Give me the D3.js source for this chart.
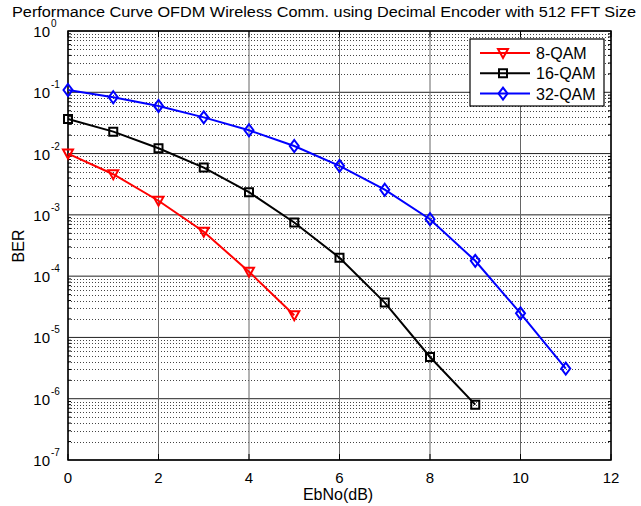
<!DOCTYPE html>
<html>
<head>
<meta charset="utf-8">
<script src="https://cdn.jsdelivr.net/npm/d3@7"></script>
<style>
  body { margin: 0; background: #fff; }
  text { font-family: "Liberation Sans", Arial, sans-serif; }
</style>
</head>
<body>
<div id="chart"></div>
<script>
// EbNo values and BER
var ebno = [0, 1, 2, 3, 4, 5, 6, 7, 8, 9, 10, 11];
var ber8 = [1.0e-2, 4.6e-3, 1.7e-3, 5.3e-4, 1.18e-4, 2.3e-5];
var ber16 = [3.67e-2, 2.28e-2, 1.22e-2, 5.9e-3, 2.34e-3, 7.5e-4, 2.0e-4, 3.7e-5, 4.8e-6, 8.0e-7];
var ber32 = [0.109, 8.3e-2, 5.98e-2, 3.9e-2, 2.4e-2, 1.33e-2, 6.3e-3, 2.57e-3, 8.5e-4, 1.78e-4, 2.47e-5, 3.1e-6];
var xTicks = [0, 2, 4, 6, 8, 10, 12];
var yExp = [0, -1, -2, -3, -4, -5, -6, -7];
var names = ["8-QAM", "16-QAM", "32-QAM"];

var w = 641, h = 506;
var pL = 68, pR = 611, pT = 31, pB = 460;

var x = d3.scaleLinear().domain([0, 12]).range([pL, pR]);
var y = d3.scaleLog().domain([1e-7, 1]).range([pB, pT]);

var svg = d3.select("#chart").append("svg")
  .attr("width", w)
  .attr("height", h);

svg.append("rect")
  .attr("x", pL).attr("y", pT)
  .attr("width", pR - pL).attr("height", pB - pT)
  .style("fill", "#fff");

// minor grid (dotted)
var minors = [];
yExp.forEach(function(e) {
  if (e == 0) return;
  for (var k = 2; k <= 9; k++) minors.push(k * Math.pow(10, e));
});
svg.selectAll(".minor")
  .data(minors)
  .enter().append("line")
  .attr("x1", pL).attr("x2", pR)
  .attr("y1", function(d) { return Math.round(y(d)) + 0.5; })
  .attr("y2", function(d) { return Math.round(y(d)) + 0.5; })
  .style("stroke", "#444")
  .style("stroke-width", 1)
  .style("stroke-dasharray", "1,2");

// major grid
svg.selectAll(".hmaj")
  .data(yExp)
  .enter().append("line")
  .attr("x1", pL).attr("x2", pR)
  .attr("y1", function(d) { return y(Math.pow(10, d)); })
  .attr("y2", function(d) { return y(Math.pow(10, d)); })
  .style("stroke", "#222")
  .style("stroke-width", 1);

svg.selectAll(".vmaj")
  .data(xTicks)
  .enter().append("line")
  .attr("x1", function(d) { return x(d); })
  .attr("x2", function(d) { return x(d); })
  .attr("y1", pT).attr("y2", pB)
  .style("stroke", "#666")
  .style("stroke-width", 1);

// minor ticks on both y sides
svg.selectAll(".mtl")
  .data(minors)
  .enter().append("line")
  .attr("x1", pL).attr("x2", pL + 3)
  .attr("y1", function(d) { return y(d); })
  .attr("y2", function(d) { return y(d); })
  .style("stroke", "#000");
svg.selectAll(".mtr")
  .data(minors)
  .enter().append("line")
  .attr("x1", pR - 3).attr("x2", pR)
  .attr("y1", function(d) { return y(d); })
  .attr("y2", function(d) { return y(d); })
  .style("stroke", "#000");

// x ticks inside, top and bottom
svg.selectAll(".xtb")
  .data(xTicks)
  .enter().append("line")
  .attr("x1", function(d) { return x(d); })
  .attr("x2", function(d) { return x(d); })
  .attr("y1", pB).attr("y2", pB - 6)
  .style("stroke", "#000");
svg.selectAll(".xtt")
  .data(xTicks)
  .enter().append("line")
  .attr("x1", function(d) { return x(d); })
  .attr("x2", function(d) { return x(d); })
  .attr("y1", pT).attr("y2", pT + 6)
  .style("stroke", "#000");

// frame
svg.append("rect")
  .attr("x", pL).attr("y", pT)
  .attr("width", pR - pL).attr("height", pB - pT)
  .style("fill", "none")
  .style("stroke", "#000")
  .style("stroke-width", 1.5);

// x tick labels
svg.selectAll(".xl")
  .data(xTicks)
  .enter().append("text")
  .attr("x", function(d) { return x(d); })
  .attr("y", pB + 23)
  .attr("text-anchor", "middle")
  .style("font-size", "15px")
  .text(function(d) { return d; });

// y tick labels 10^e
svg.selectAll(".yl")
  .data(yExp)
  .enter().append("text")
  .attr("x", pL - 18)
  .attr("y", function(d) { return y(Math.pow(10, d)) + 6; })
  .attr("text-anchor", "end")
  .style("font-size", "15px")
  .text("10");
svg.selectAll(".ye")
  .data(yExp)
  .enter().append("text")
  .attr("x", pL - 17)
  .attr("y", function(d) { return y(Math.pow(10, d)) - 4; })
  .style("font-size", "10px")
  .text(function(d) { return d; });

// axis labels and title
svg.append("text")
  .attr("x", 338)
  .attr("y", 500)
  .attr("text-anchor", "middle")
  .style("font-size", "16px")
  .text("EbNo(dB)");
svg.append("text")
  .attr("transform", "translate(24,246) rotate(-90)")
  .attr("text-anchor", "middle")
  .style("font-size", "16px")
  .text("BER");
svg.append("text")
  .attr("x", 12)
  .attr("y", 17)
  .attr("textLength", 624)
  .attr("lengthAdjust", "spacingAndGlyphs")
  .style("font-size", "14px")
  .text("Performance Curve OFDM Wireless Comm. using Decimal Encoder with 512 FFT Size");

// series
var series = [
  { name: names[0], vals: ber8, color: "#ff0000", marker: "tri" },
  { name: names[1], vals: ber16, color: "#000000", marker: "sq" },
  { name: names[2], vals: ber32, color: "#0000ff", marker: "dia" }
];

function markerPath(type) {
  if (type == "tri") return "M-5,-4L5,-4L0,5Z";
  if (type == "sq") return "M-4,-4L4,-4L4,4L-4,4Z";
  return "M0,-6L4.5,0L0,6L-4.5,0Z";
}

var line = d3.line()
  .x(function(d, i) { return x(ebno[i]); })
  .y(function(d) { return y(d); });

series.forEach(function(s) {
  svg.append("path")
    .datum(s.vals)
    .attr("d", line)
    .style("fill", "none")
    .style("stroke", s.color)
    .style("stroke-width", 2);
  svg.selectAll(".m" + s.marker)
    .data(s.vals)
    .enter().append("path")
    .attr("transform", function(d, i) { return "translate(" + x(ebno[i]) + "," + y(d) + ")"; })
    .attr("d", markerPath(s.marker))
    .style("fill", "none")
    .style("stroke", s.color)
    .style("stroke-width", 2);
});

// legend
var lg = svg.append("g");
lg.append("rect")
  .attr("x", 470).attr("y", 39)
  .attr("width", 134).attr("height", 67)
  .style("fill", "#fff")
  .style("stroke", "#000")
  .style("stroke-width", 1.2);
series.forEach(function(s, i) {
  var ly = 53 + i * 20.3;
  lg.append("line")
    .attr("x1", 480).attr("x2", 530)
    .attr("y1", ly).attr("y2", ly)
    .style("stroke", s.color)
    .style("stroke-width", 2);
  lg.append("path")
    .attr("transform", "translate(503," + ly + ")")
    .attr("d", markerPath(s.marker))
    .style("fill", "none")
    .style("stroke", s.color)
    .style("stroke-width", 2);
  lg.append("text")
    .attr("x", 536)
    .attr("y", ly + 6)
    .style("font-size", "16px")
    .text(s.name);
});
</script>
</body>
</html>
